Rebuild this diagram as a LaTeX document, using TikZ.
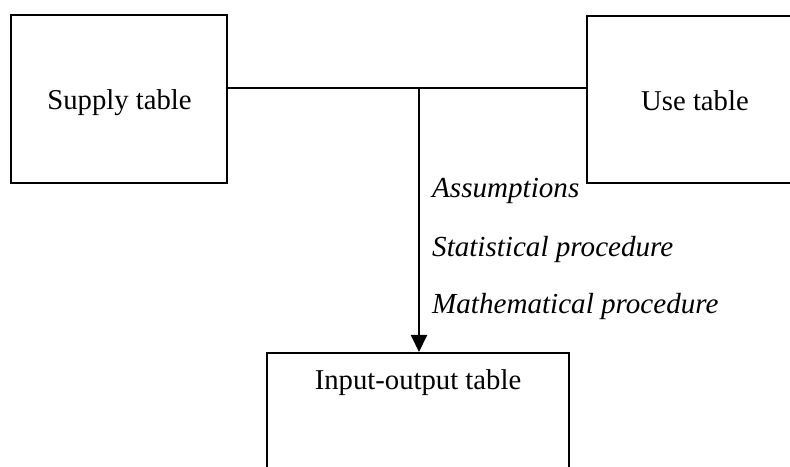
\documentclass[tikz,border=0pt]{standalone}
\usepackage{fontspec}
\setmainfont{Liberation Serif}
\usetikzlibrary{arrows.meta}
\begin{document}
\begin{tikzpicture}[x=1pt,y=1pt,
  box/.style={draw=black,line width=2pt,rectangle,inner sep=0pt},
  lbl/.style={font=\fontsize{28.7}{34}\selectfont,inner sep=0pt,anchor=base},
  itl/.style={font=\fontsize{29.1}{34}\selectfont\itshape,inner sep=0pt,anchor=base west},
  conn/.style={line width=2pt}]
\useasboundingbox (0,0) rectangle (790,466);
\begin{scope}
\clip (0,0) rectangle (790,466);
\node[box,minimum width=216pt,minimum height=168pt] (supply) at (119,367) {};
\node[box,minimum width=216pt,minimum height=167pt] (use) at (695,366.5) {};
\node[box,minimum width=302pt,minimum height=168pt,anchor=north] (io) at (418,114) {};
\end{scope}
\node[lbl] (supplyt) at (119.5,356) {Supply table};
\node[lbl] (uset) at (695,355) {Use table};
\node[lbl] (iot) at (418,76) {Input-output table};
\coordinate (j) at (419,378);
\draw[conn] (j -| supply.east) -- (j -| use.west);
\draw[conn,-{Triangle[length=17pt,width=16pt]}] (j) -- (j |- io.north);
\node[itl] (a1) at (432,268) {Assumptions};
\node[itl] (a2) at (432,209) {Statistical procedure};
\node[itl] (a3) at (432,152) {Mathematical procedure};
\end{tikzpicture}
\end{document}
